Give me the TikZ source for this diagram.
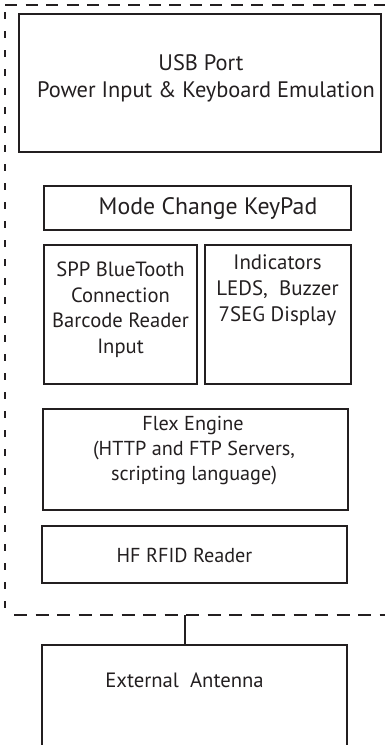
\documentclass[tikz,border=0pt]{standalone}
\usepackage{fontspec}
\setmainfont{PT Sans}
\usetikzlibrary{fit}
\definecolor{ink}{HTML}{231F20}
\begin{document}
\begin{tikzpicture}[x=1pt,y=-1pt,
  box/.style={draw=ink, line width=1.8pt, inner sep=0pt},
  txt/.style={text=ink, align=center, inner sep=0pt, anchor=base},
  frame/.style={draw=ink, line width=1.7pt}]
\useasboundingbox (0,0) rectangle (385,745);
% dashed enclosure
\draw[frame, dash pattern=on 12pt off 8.5pt] (5,5) -- (395,5);
\draw[frame, dash pattern=on 13pt off 8.5pt] (14,615) -- (395,615);
\draw[frame, dash pattern=on 7pt off 12pt] (5,12) -- (5,615);
% boxes
\node[box, fit={(19,14) (381,152)}] (usb) {};
\node[box, fit={(44,186) (351,230)}] (mode) {};
\node[box, fit={(44,245) (197,384)}] (spp) {};
\node[box, fit={(205,245) (351,384)}] (ind) {};
\node[box, fit={(43,409) (348,510)}] (flex) {};
\node[box, fit={(42,526) (347,583)}] (rfid) {};
\node[box, fit={(42,645) (347,760)}] (ant) {};
\coordinate (tap) at (185,615);
\draw[ink, line width=1.5pt] (tap) -- (tap |- ant.north);
% texts
\node[txt, font=\fontsize{22.4}{27}\selectfont] (usbt1) at (201,70) {USB Port};
\node[txt, font=\fontsize{22.4}{27}\selectfont] (usbt2) at (206,97.5) {Power Input \& Keyboard Emulation};
\node[txt, font=\fontsize{23.8}{27}\selectfont] (modet) at (208,214) {Mode Change KeyPad};
\node[txt, font=\fontsize{20.6}{25}\selectfont] (sppt1) at (120.5,276) {SPP BlueTooth};
\node[txt, font=\fontsize{20.6}{25}\selectfont] (sppt2) at (120.5,302) {Connection};
\node[txt, font=\fontsize{20.6}{25}\selectfont] (sppt3) at (120.5,327) {Barcode Reader};
\node[txt, font=\fontsize{20.6}{25}\selectfont] (sppt4) at (120.5,353) {Input};
\node[txt, font=\fontsize{20.9}{25}\selectfont] (indt1) at (277.5,269) {Indicators};
\node[txt, font=\fontsize{20.9}{25}\selectfont] (indt2) at (277.5,295) {LEDS,\ \ Buzzer};
\node[txt, font=\fontsize{20.9}{25}\selectfont] (indt3) at (277.5,321) {7SEG Display};
\node[txt, font=\fontsize{20.2}{25}\selectfont] (flext1) at (193,430) {Flex Engine};
\node[txt, font=\fontsize{20.2}{25}\selectfont] (flext2) at (194,455) {(HTTP and FTP Servers,};
\node[txt, font=\fontsize{20.2}{25}\selectfont] (flext3) at (194,480) {scripting language)};
\node[txt, font=\fontsize{20.2}{25}\selectfont] (rfidt) at (184.5,562) {HF RFID Reader};
\node[txt, font=\fontsize{20.7}{25}\selectfont] (antt) at (184.5,687) {External\ \ Antenna};
\end{tikzpicture}
\end{document}
